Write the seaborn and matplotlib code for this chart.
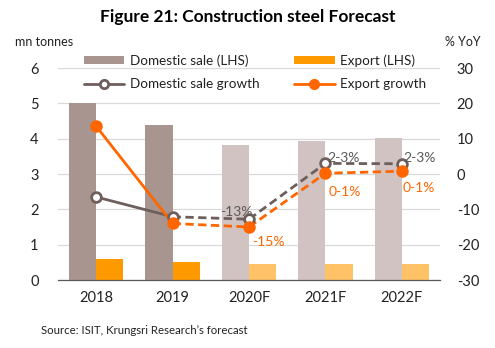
import matplotlib
matplotlib.use("Agg")
import matplotlib.pyplot as plt
from matplotlib.patches import Patch
from matplotlib.lines import Line2D
import seaborn as sns
import pandas as pd

years = ["2018", "2019", "2020F", "2021F", "2022F"]
domestic_sale = [5.0, 4.4, 3.83, 3.93, 4.03]
export_sale = [0.6, 0.52, 0.44, 0.44, 0.44]
domestic_growth = [-6.5, -12.1, -12.8, 3.0, 2.9]
export_growth = [13.5, -14.0, -15.0, 0.2, 0.8]
is_forecast = [False, False, True, True, True]
left_ticks = [0, 1, 2, 3, 4, 5, 6]
right_ticks = [-30, -20, -10, 0, 10, 20, 30]
dom_labels = [("-13%", 1.84, -10.8), ("2-3%", 3.24, 4.4), ("2-3%", 4.23, 4.5)]
exp_labels = [("-15%", 2.25, -19.3), ("0-1%", 3.26, -5.2), ("0-1%", 4.22, -4.0)]

sns.set_theme(style="white")
plt.rcParams["font.family"] = ["Lato", "DejaVu Sans"]

DOM = "#A8958F"
DOM_F = "#D1C3C1"
EXP = "#FF9900"
EXP_F = "#FFC266"
DOM_LINE = "#6E5F5C"
EXP_LINE = "#FF6600"
TXT = "#222222"

fig = plt.figure(figsize=(4.95, 3.48), dpi=100)
ax = fig.add_axes([58/495, 1-280/348, (440-58)/495, (280-68)/348])

df = pd.DataFrame({
    "year": years * 2,
    "value": domestic_sale + export_sale,
    "series": ["Domestic sale (LHS)"] * 5 + ["Export (LHS)"] * 5,
})
sns.barplot(data=df, x="year", y="value", hue="series",
            palette=[DOM, EXP], width=0.71, ax=ax, legend=False,
            saturation=1)

for i, p in enumerate(ax.patches[:10]):
    s, j = divmod(i, 5)
    if is_forecast[j]:
        p.set_facecolor(DOM_F if s == 0 else EXP_F)
    else:
        p.set_facecolor(DOM if s == 0 else EXP)
    p.set_edgecolor("none")

ax.set_ylim(0, 6)
ax.set_xlim(-0.5, 4.5)
ax.set_yticks(left_ticks)
ax.set_yticklabels([str(t) for t in left_ticks], fontsize=10.5, color=TXT)
ax.tick_params(axis="x", labelsize=10.5, colors=TXT, length=0, pad=8)
ax.tick_params(axis="y", length=0, pad=14)
ax.set_xlabel("")
ax.set_ylabel("")
ax.yaxis.grid(True, color="#D9D9D9", linewidth=0.9)
ax.set_axisbelow(True)
for s in ["top", "left", "right"]:
    ax.spines[s].set_visible(False)
ax.spines["bottom"].set_color("#595959")
ax.spines["bottom"].set_linewidth(0.9)

ax2 = ax.twinx()
ax2.set_ylim(-30, 30)
ax2.set_yticks(right_ticks)
ax2.set_yticklabels([str(t) for t in right_ticks], fontsize=10.5, color=TXT)
ax2.tick_params(axis="y", length=0, pad=12)
for s in ["top", "left", "right", "bottom"]:
    ax2.spines[s].set_visible(False)

x = list(range(len(years)))
lw = 2.0
dash = (3.0, 1.6)
ax2.plot(x[:2], domestic_growth[:2], color=DOM_LINE, lw=lw)
ax2.plot(x[:2], export_growth[:2], color=EXP_LINE, lw=lw)
ax2.plot(x[1:], domestic_growth[1:], color=DOM_LINE, lw=lw, dashes=dash)
ax2.plot(x[1:], export_growth[1:], color=EXP_LINE, lw=lw, dashes=dash)
ax2.plot(x, domestic_growth, linestyle="none", marker="o", ms=7,
         mfc="white", mec=DOM_LINE, mew=2, zorder=5)
ax2.plot(x, export_growth, linestyle="none", marker="o", ms=8,
         mfc=EXP_LINE, mec=EXP_LINE, zorder=5)

for t, xx, yy in dom_labels:
    ax2.text(xx, yy, t, color="#595959", fontsize=10, ha="center", va="center", zorder=6)
for t, xx, yy in exp_labels:
    ax2.text(xx, yy, t, color=EXP_LINE, fontsize=10, ha="center", va="center", zorder=6)

fig.text(0.5, 1 - 17/348, "Figure 21: Construction steel Forecast", ha="center", va="center",
         fontsize=12.5, fontweight="bold", color="black")
fig.text(15/495, 1 - 42/348, "mn tonnes", ha="left", va="center", fontsize=9, color=TXT)
fig.text(481/495, 1 - 42/348, "% YoY", ha="right", va="center", fontsize=9, color=TXT)
fig.text(41/495, 1 - 331/348, "Source: ISIT, Krungsri Research\u2019s forecast", ha="left",
         va="center", fontsize=8.2, color=TXT)

handles = [
    Patch(facecolor=DOM, edgecolor="none"),
    Line2D([0], [0], color=DOM_LINE, lw=2, marker="o", ms=6, mfc="white", mec=DOM_LINE, mew=2),
    Patch(facecolor=EXP, edgecolor="none"),
    Line2D([0], [0], color=EXP_LINE, lw=2, marker="o", ms=7, mfc=EXP_LINE, mec=EXP_LINE),
]
labels = ["Domestic sale (LHS)", "Domestic sale growth", "Export (LHS)", "Export growth"]
fig.legend(handles, labels, ncol=2, loc="center", bbox_to_anchor=(255/495, 1 - 72.5/348),
           frameon=False, fontsize=9.7, handlelength=3.0, handleheight=0.5,
           columnspacing=2.6, labelspacing=0.85, handletextpad=0.4, labelcolor=TXT)

fig.savefig("out.png", dpi=100)
